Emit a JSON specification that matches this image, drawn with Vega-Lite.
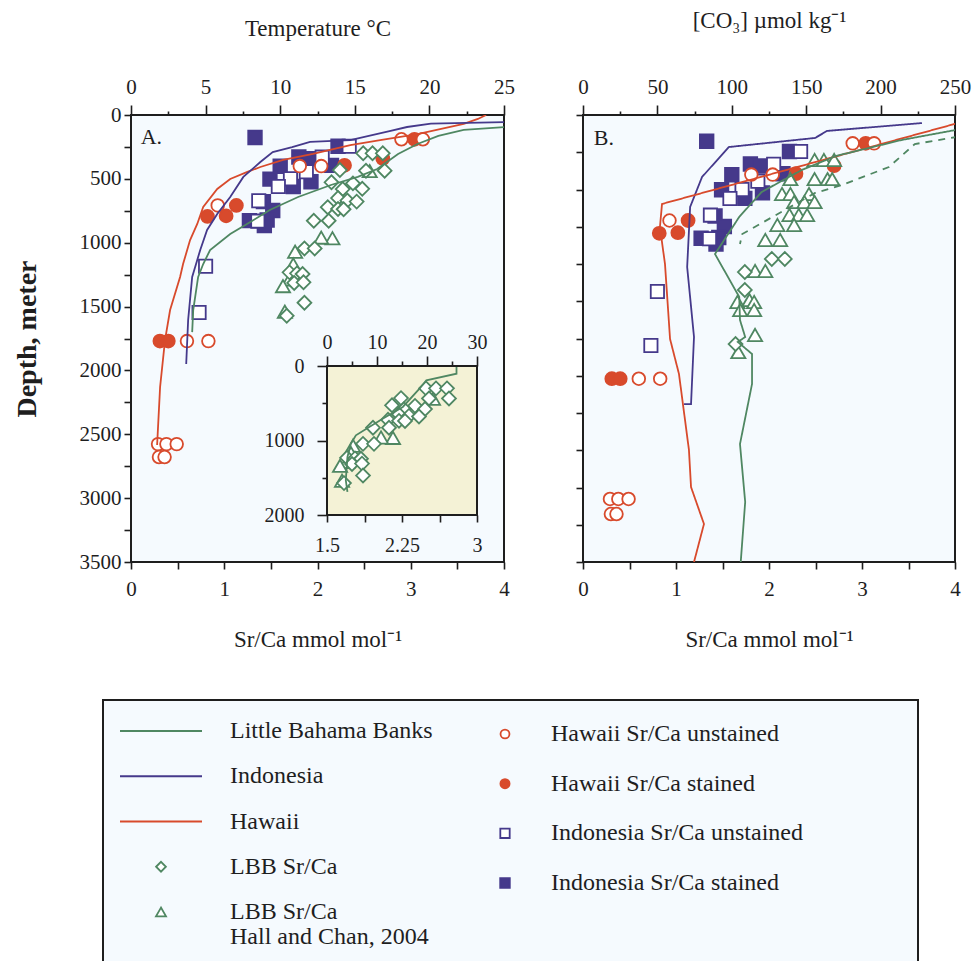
{
"$schema": "https://vega.github.io/schema/vega-lite/v6.json",
"background": "white",
"padding": {"left": 12, "top": 8, "right": 0, "bottom": 0},
"config": {
  "font": "Liberation Serif",
  "view": {"stroke": "#1e1e1e", "strokeWidth": 2, "fill": "#f5fafe"},
  "axis": {"domain": false, "grid": false, "tickColor": "#1e1e1e", "tickWidth": 1.6, "labelFont": "Liberation Serif", "labelFontSize": 21, "labelColor": "#1e1e1e", "titleFont": "Liberation Serif", "titleFontSize": 23, "titleFontWeight": "normal", "titleColor": "#1e1e1e", "labelOverlap": false, "labelFlush": false},
  "text": {"font": "Liberation Serif", "color": "#1e1e1e"}
},
"resolve": {"scale": {"size": "independent"}},
"spacing": 47,
"datasets": {
  "pts": [
    {"s":1.33,"d":176,"series":"Indonesia Sr/Ca stained","set":"HI"},
    {"s":2.22,"d":245,"series":"Indonesia Sr/Ca stained","set":"HI"},
    {"s":1.80,"d":329,"series":"Indonesia Sr/Ca stained","set":"HI"},
    {"s":1.90,"d":342,"series":"Indonesia Sr/Ca stained","set":"HI"},
    {"s":2.15,"d":394,"series":"Indonesia Sr/Ca stained","set":"HI"},
    {"s":1.60,"d":401,"series":"Indonesia Sr/Ca stained","set":"HI"},
    {"s":1.49,"d":502,"series":"Indonesia Sr/Ca stained","set":"HI"},
    {"s":1.93,"d":523,"series":"Indonesia Sr/Ca stained","set":"HI"},
    {"s":1.74,"d":560,"series":"Indonesia Sr/Ca stained","set":"HI"},
    {"s":1.42,"d":678,"series":"Indonesia Sr/Ca stained","set":"HI"},
    {"s":1.52,"d":748,"series":"Indonesia Sr/Ca stained","set":"HI"},
    {"s":1.27,"d":827,"series":"Indonesia Sr/Ca stained","set":"HI"},
    {"s":1.46,"d":822,"series":"Indonesia Sr/Ca stained","set":"HI"},
    {"s":1.43,"d":866,"series":"Indonesia Sr/Ca stained","set":"HI"},
    {"s":2.34,"d":245,"series":"Indonesia Sr/Ca unstained","set":"HI"},
    {"s":2.05,"d":330,"series":"Indonesia Sr/Ca unstained","set":"HI"},
    {"s":1.88,"d":445,"series":"Indonesia Sr/Ca unstained","set":"HI"},
    {"s":1.71,"d":500,"series":"Indonesia Sr/Ca unstained","set":"HI"},
    {"s":1.58,"d":560,"series":"Indonesia Sr/Ca unstained","set":"HI"},
    {"s":1.37,"d":672,"series":"Indonesia Sr/Ca unstained","set":"HI"},
    {"s":1.36,"d":831,"series":"Indonesia Sr/Ca unstained","set":"HI"},
    {"s":0.80,"d":1185,"series":"Indonesia Sr/Ca unstained","set":"HI"},
    {"s":0.73,"d":1547,"series":"Indonesia Sr/Ca unstained","set":"HI"},
    {"s":3.04,"d":190,"series":"Hawaii Sr/Ca stained","set":"HI"},
    {"s":2.29,"d":394,"series":"Hawaii Sr/Ca stained","set":"HI"},
    {"s":2.70,"d":340,"series":"Hawaii Sr/Ca stained","set":"HI"},
    {"s":1.13,"d":708,"series":"Hawaii Sr/Ca stained","set":"HI"},
    {"s":0.82,"d":794,"series":"Hawaii Sr/Ca stained","set":"HI"},
    {"s":1.02,"d":790,"series":"Hawaii Sr/Ca stained","set":"HI"},
    {"s":0.31,"d":1770,"series":"Hawaii Sr/Ca stained","set":"HI"},
    {"s":0.40,"d":1770,"series":"Hawaii Sr/Ca stained","set":"HI"},
    {"s":2.90,"d":190,"series":"Hawaii Sr/Ca unstained","set":"HI"},
    {"s":3.13,"d":190,"series":"Hawaii Sr/Ca unstained","set":"HI"},
    {"s":1.81,"d":400,"series":"Hawaii Sr/Ca unstained","set":"HI"},
    {"s":2.04,"d":400,"series":"Hawaii Sr/Ca unstained","set":"HI"},
    {"s":0.93,"d":708,"series":"Hawaii Sr/Ca unstained","set":"HI"},
    {"s":0.60,"d":1770,"series":"Hawaii Sr/Ca unstained","set":"HI"},
    {"s":0.83,"d":1770,"series":"Hawaii Sr/Ca unstained","set":"HI"},
    {"s":0.29,"d":2577,"series":"Hawaii Sr/Ca unstained","set":"HI"},
    {"s":0.38,"d":2577,"series":"Hawaii Sr/Ca unstained","set":"HI"},
    {"s":0.49,"d":2577,"series":"Hawaii Sr/Ca unstained","set":"HI"},
    {"s":0.30,"d":2678,"series":"Hawaii Sr/Ca unstained","set":"HI"},
    {"s":0.36,"d":2678,"series":"Hawaii Sr/Ca unstained","set":"HI"},
    {"s":2.56,"d":439,"series":"LBB Sr/Ca Hall and Chan, 2004","set":"A"},
    {"s":2.16,"d":965,"series":"LBB Sr/Ca Hall and Chan, 2004","set":"A"},
    {"s":2.04,"d":960,"series":"LBB Sr/Ca Hall and Chan, 2004","set":"A"},
    {"s":1.76,"d":1070,"series":"LBB Sr/Ca Hall and Chan, 2004","set":"A"},
    {"s":1.74,"d":1170,"series":"LBB Sr/Ca Hall and Chan, 2004","set":"A"},
    {"s":1.70,"d":1288,"series":"LBB Sr/Ca Hall and Chan, 2004","set":"A"},
    {"s":1.63,"d":1340,"series":"LBB Sr/Ca Hall and Chan, 2004","set":"A"},
    {"s":1.65,"d":1540,"series":"LBB Sr/Ca Hall and Chan, 2004","set":"A"},
    {"s":2.49,"d":300,"series":"LBB Sr/Ca","set":"A"},
    {"s":2.59,"d":300,"series":"LBB Sr/Ca","set":"A"},
    {"s":2.70,"d":300,"series":"LBB Sr/Ca","set":"A"},
    {"s":2.24,"d":431,"series":"LBB Sr/Ca","set":"A"},
    {"s":2.52,"d":436,"series":"LBB Sr/Ca","set":"A"},
    {"s":2.72,"d":436,"series":"LBB Sr/Ca","set":"A"},
    {"s":2.15,"d":527,"series":"LBB Sr/Ca","set":"A"},
    {"s":2.38,"d":535,"series":"LBB Sr/Ca","set":"A"},
    {"s":2.27,"d":580,"series":"LBB Sr/Ca","set":"A"},
    {"s":2.48,"d":578,"series":"LBB Sr/Ca","set":"A"},
    {"s":2.22,"d":650,"series":"LBB Sr/Ca","set":"A"},
    {"s":2.32,"d":670,"series":"LBB Sr/Ca","set":"A"},
    {"s":2.42,"d":678,"series":"LBB Sr/Ca","set":"A"},
    {"s":2.11,"d":722,"series":"LBB Sr/Ca","set":"A"},
    {"s":2.22,"d":736,"series":"LBB Sr/Ca","set":"A"},
    {"s":2.28,"d":738,"series":"LBB Sr/Ca","set":"A"},
    {"s":1.96,"d":828,"series":"LBB Sr/Ca","set":"A"},
    {"s":2.12,"d":828,"series":"LBB Sr/Ca","set":"A"},
    {"s":1.86,"d":1045,"series":"LBB Sr/Ca","set":"A"},
    {"s":1.97,"d":1045,"series":"LBB Sr/Ca","set":"A"},
    {"s":1.70,"d":1232,"series":"LBB Sr/Ca","set":"A"},
    {"s":1.78,"d":1240,"series":"LBB Sr/Ca","set":"A"},
    {"s":1.84,"d":1245,"series":"LBB Sr/Ca","set":"A"},
    {"s":1.75,"d":1315,"series":"LBB Sr/Ca","set":"A"},
    {"s":1.85,"d":1310,"series":"LBB Sr/Ca","set":"A"},
    {"s":1.86,"d":1470,"series":"LBB Sr/Ca","set":"A"},
    {"s":1.67,"d":1572,"series":"LBB Sr/Ca","set":"A"},
    {"s":2.49,"d":302,"series":"LBB Sr/Ca Hall and Chan, 2004","set":"B"},
    {"s":2.59,"d":302,"series":"LBB Sr/Ca Hall and Chan, 2004","set":"B"},
    {"s":2.70,"d":302,"series":"LBB Sr/Ca Hall and Chan, 2004","set":"B"},
    {"s":2.49,"d":430,"series":"LBB Sr/Ca Hall and Chan, 2004","set":"B"},
    {"s":2.63,"d":430,"series":"LBB Sr/Ca Hall and Chan, 2004","set":"B"},
    {"s":2.68,"d":430,"series":"LBB Sr/Ca Hall and Chan, 2004","set":"B"},
    {"s":2.23,"d":430,"series":"LBB Sr/Ca Hall and Chan, 2004","set":"B"},
    {"s":2.14,"d":530,"series":"LBB Sr/Ca Hall and Chan, 2004","set":"B"},
    {"s":2.23,"d":530,"series":"LBB Sr/Ca Hall and Chan, 2004","set":"B"},
    {"s":2.43,"d":530,"series":"LBB Sr/Ca Hall and Chan, 2004","set":"B"},
    {"s":2.27,"d":584,"series":"LBB Sr/Ca Hall and Chan, 2004","set":"B"},
    {"s":2.38,"d":584,"series":"LBB Sr/Ca Hall and Chan, 2004","set":"B"},
    {"s":2.49,"d":584,"series":"LBB Sr/Ca Hall and Chan, 2004","set":"B"},
    {"s":2.22,"d":671,"series":"LBB Sr/Ca Hall and Chan, 2004","set":"B"},
    {"s":2.32,"d":671,"series":"LBB Sr/Ca Hall and Chan, 2004","set":"B"},
    {"s":2.41,"d":671,"series":"LBB Sr/Ca Hall and Chan, 2004","set":"B"},
    {"s":2.09,"d":738,"series":"LBB Sr/Ca Hall and Chan, 2004","set":"B"},
    {"s":2.27,"d":738,"series":"LBB Sr/Ca Hall and Chan, 2004","set":"B"},
    {"s":1.96,"d":839,"series":"LBB Sr/Ca Hall and Chan, 2004","set":"B"},
    {"s":2.12,"d":839,"series":"LBB Sr/Ca Hall and Chan, 2004","set":"B"},
    {"s":1.85,"d":1047,"series":"LBB Sr/Ca Hall and Chan, 2004","set":"B"},
    {"s":1.96,"d":1047,"series":"LBB Sr/Ca Hall and Chan, 2004","set":"B"},
    {"s":1.66,"d":1255,"series":"LBB Sr/Ca Hall and Chan, 2004","set":"B"},
    {"s":1.79,"d":1242,"series":"LBB Sr/Ca Hall and Chan, 2004","set":"B"},
    {"s":1.84,"d":1255,"series":"LBB Sr/Ca Hall and Chan, 2004","set":"B"},
    {"s":1.69,"d":1309,"series":"LBB Sr/Ca Hall and Chan, 2004","set":"B"},
    {"s":1.84,"d":1309,"series":"LBB Sr/Ca Hall and Chan, 2004","set":"B"},
    {"s":1.85,"d":1476,"series":"LBB Sr/Ca Hall and Chan, 2004","set":"B"},
    {"s":1.67,"d":1591,"series":"LBB Sr/Ca Hall and Chan, 2004","set":"B"},
    {"s":2.03,"d":966,"series":"LBB Sr/Ca","set":"B"},
    {"s":2.17,"d":966,"series":"LBB Sr/Ca","set":"B"},
    {"s":1.74,"d":1054,"series":"LBB Sr/Ca","set":"B"},
    {"s":1.74,"d":1174,"series":"LBB Sr/Ca","set":"B"},
    {"s":1.64,"d":1537,"series":"LBB Sr/Ca","set":"B"}
  ],
  "tempA": [
    {"series":"Hawaii","t":23.8,"d":0},{"series":"Hawaii","t":23.25,"d":31},{"series":"Hawaii","t":22.3,"d":70},{"series":"Hawaii","t":19.2,"d":149},{"series":"Hawaii","t":16.7,"d":196},{"series":"Hawaii","t":14.7,"d":235},{"series":"Hawaii","t":12.2,"d":305},{"series":"Hawaii","t":10.2,"d":352},{"series":"Hawaii","t":8.67,"d":407},{"series":"Hawaii","t":7.8,"d":446},{"series":"Hawaii","t":6.65,"d":501},{"series":"Hawaii","t":5.78,"d":579},{"series":"Hawaii","t":4.84,"d":720},{"series":"Hawaii","t":4.44,"d":853},{"series":"Hawaii","t":3.96,"d":979},{"series":"Hawaii","t":3.49,"d":1167},{"series":"Hawaii","t":3.29,"d":1268},{"series":"Hawaii","t":2.62,"d":1527},{"series":"Hawaii","t":2.28,"d":1762},{"series":"Hawaii","t":1.95,"d":2130},{"series":"Hawaii","t":1.75,"d":2584},
    {"series":"Indonesia","t":25.6,"d":55},{"series":"Indonesia","t":20.1,"d":68},{"series":"Indonesia","t":18.5,"d":94},{"series":"Indonesia","t":17.4,"d":125},{"series":"Indonesia","t":14.7,"d":196},{"series":"Indonesia","t":12.0,"d":211},{"series":"Indonesia","t":10.8,"d":251},{"series":"Indonesia","t":9.5,"d":290},{"series":"Indonesia","t":8.67,"d":368},{"series":"Indonesia","t":7.53,"d":485},{"series":"Indonesia","t":6.65,"d":642},{"series":"Indonesia","t":5.78,"d":775},{"series":"Indonesia","t":5.1,"d":900},{"series":"Indonesia","t":4.64,"d":1057},{"series":"Indonesia","t":4.3,"d":1190},{"series":"Indonesia","t":4.1,"d":1268},{"series":"Indonesia","t":3.83,"d":1605},{"series":"Indonesia","t":3.7,"d":1950},
    {"series":"Little Bahama Banks","t":25.6,"d":90},{"series":"Little Bahama Banks","t":22.3,"d":117},{"series":"Little Bahama Banks","t":20.6,"d":164},{"series":"Little Bahama Banks","t":19.2,"d":227},{"series":"Little Bahama Banks","t":17.9,"d":305},{"series":"Little Bahama Banks","t":16.5,"d":423},{"series":"Little Bahama Banks","t":15.2,"d":485},{"series":"Little Bahama Banks","t":13.4,"d":548},{"series":"Little Bahama Banks","t":11.2,"d":642},{"series":"Little Bahama Banks","t":9.3,"d":744},{"series":"Little Bahama Banks","t":8.0,"d":838},{"series":"Little Bahama Banks","t":6.65,"d":932},{"series":"Little Bahama Banks","t":5.3,"d":1057},{"series":"Little Bahama Banks","t":4.84,"d":1167},{"series":"Little Bahama Banks","t":4.5,"d":1268},{"series":"Little Bahama Banks","t":4.17,"d":1527},{"series":"Little Bahama Banks","t":4.1,"d":1700}
  ],
  "insetLine": [
    {"t":25.9,"d":13},{"t":25.9,"d":103},{"t":19.87,"d":192},{"t":18.5,"d":305},{"t":15.16,"d":550},{"t":11.13,"d":707},{"t":8.45,"d":819},{"t":5.78,"d":930},{"t":4.77,"d":1043},{"t":4.09,"d":1221},{"t":3.76,"d":1534},{"t":4.09,"d":1691}
  ],
  "co3B": [
    {"series":"Indonesia","c":227.8,"d":54},{"series":"Indonesia","c":164,"d":107},{"series":"Indonesia","c":156,"d":154},{"series":"Indonesia","c":98,"d":215},{"series":"Indonesia","c":80,"d":416},{"series":"Indonesia","c":72,"d":617},{"series":"Indonesia","c":70,"d":1020},{"series":"Indonesia","c":74.6,"d":1490},{"series":"Indonesia","c":72.6,"d":1940},{"series":"Indonesia","c":67.9,"d":1941},
    {"series":"Hawaii","c":259,"d":35},{"series":"Hawaii","c":53.1,"d":597},{"series":"Hawaii","c":51.7,"d":752},{"series":"Hawaii","c":55.1,"d":1000},{"series":"Hawaii","c":58.5,"d":1503},{"series":"Hawaii","c":64.5,"d":1738},{"series":"Hawaii","c":71.2,"d":2248},{"series":"Hawaii","c":72.6,"d":2497},{"series":"Hawaii","c":81.3,"d":2745},{"series":"Hawaii","c":74.6,"d":3000},
    {"series":"Little Bahama Banks","c":255,"d":92},{"series":"Little Bahama Banks","c":214,"d":168},{"series":"Little Bahama Banks","c":170,"d":275},{"series":"Little Bahama Banks","c":147,"d":369},{"series":"Little Bahama Banks","c":120,"d":517},{"series":"Little Bahama Banks","c":105,"d":684},{"series":"Little Bahama Banks","c":88.7,"d":933},{"series":"Little Bahama Banks","c":105,"d":1221},{"series":"Little Bahama Banks","c":105.5,"d":1376},{"series":"Little Bahama Banks","c":109,"d":1490},{"series":"Little Bahama Banks","c":104,"d":1523},{"series":"Little Bahama Banks","c":113.6,"d":1604},{"series":"Little Bahama Banks","c":113.6,"d":1805},{"series":"Little Bahama Banks","c":105.5,"d":2208},{"series":"Little Bahama Banks","c":109,"d":2597},{"series":"Little Bahama Banks","c":106,"d":3000},
    {"series":"LBB dashed","c":252,"d":146},{"series":"LBB dashed","c":223,"d":195},{"series":"LBB dashed","c":205.6,"d":349},{"series":"LBB dashed","c":174,"d":470},{"series":"LBB dashed","c":156,"d":523},{"series":"LBB dashed","c":107,"d":799},{"series":"LBB dashed","c":105.5,"d":866}
  ],
  "legL": [
    {"col":0,"row":1,"kind":"line","series":"Little Bahama Banks","label":"Little Bahama Banks"},
    {"col":0,"row":2,"kind":"line","series":"Indonesia","label":"Indonesia"},
    {"col":0,"row":3,"kind":"line","series":"Hawaii","label":"Hawaii"},
    {"col":0,"row":4,"kind":"symbol","series":"LBB Sr/Ca","label":"LBB Sr/Ca"},
    {"col":0,"row":5,"kind":"symbol","series":"LBB Sr/Ca Hall and Chan, 2004","label":"LBB Sr/Ca\nHall and Chan, 2004"}
  ],
  "legR": [
    {"col":1,"row":1,"series":"Hawaii Sr/Ca unstained","label":"Hawaii Sr/Ca unstained"},
    {"col":1,"row":2,"series":"Hawaii Sr/Ca stained","label":"Hawaii Sr/Ca stained"},
    {"col":1,"row":3,"series":"Indonesia Sr/Ca unstained","label":"Indonesia Sr/Ca unstained"},
    {"col":1,"row":4,"series":"Indonesia Sr/Ca stained","label":"Indonesia Sr/Ca stained"}
  ]
},
"vconcat": [
 {
  "hconcat": [
   {
    "width": 373, "height": 447,
    "resolve": {"scale": {"x": "independent", "y": "independent"}},
    "layer": [
     {"data": {"name": "pts"},
      "transform": [{"filter": "datum.set !== 'B'"}],
      "mark": {"type": "point", "filled": true, "strokeWidth": 1.8, "opacity": 1},
      "encoding": {
        "x": {"field": "s", "type": "quantitative", "scale": {"domain": [0,4], "nice": false, "zero": false},
              "axis": {"orient": "bottom", "values": [0,0.5,1,1.5,2,2.5,3,3.5,4], "labelExpr": "datum.value % 1 === 0 ? format(datum.value, 'd') : ''", "tickSize": 7, "labelPadding": 9, "title": "Sr/Ca mmol mol⁻¹", "titlePadding": 29}},
        "y": {"field": "d", "type": "quantitative", "scale": {"domain": [0,3500], "nice": false, "zero": false, "reverse": true},
              "axis": {"orient": "left", "values": [0,250,500,750,1000,1250,1500,1750,2000,2250,2500,2750,3000,3250,3500], "labelExpr": "datum.value % 500 === 0 ? format(datum.value, 'd') : ''", "tickSize": 7, "labelPadding": 3, "title": "Depth, meter", "titleFontWeight": "bold", "titleFontSize": 28, "titlePadding": 38}},
        "shape": {"field": "series", "type": "nominal", "legend": null, "scale": {"domain": ["Hawaii Sr/Ca unstained","Hawaii Sr/Ca stained","Indonesia Sr/Ca unstained","Indonesia Sr/Ca stained","LBB Sr/Ca","LBB Sr/Ca Hall and Chan, 2004"], "range": ["circle","circle","square","square","diamond","triangle-up"]}},
        "stroke": {"field": "series", "type": "nominal", "legend": null, "scale": {"domain": ["Hawaii Sr/Ca unstained","Hawaii Sr/Ca stained","Indonesia Sr/Ca unstained","Indonesia Sr/Ca stained","LBB Sr/Ca","LBB Sr/Ca Hall and Chan, 2004"], "range": ["#d84a2c","#d84a2c","#45398b","#45398b","#4f8762","#4f8762"]}},
        "fill": {"field": "series", "type": "nominal", "legend": null, "scale": {"domain": ["Hawaii Sr/Ca unstained","Hawaii Sr/Ca stained","Indonesia Sr/Ca unstained","Indonesia Sr/Ca stained","LBB Sr/Ca","LBB Sr/Ca Hall and Chan, 2004"], "range": ["#ffffff","#d84a2c","#ffffff","#45398b","#ffffff","#ffffff"]}},
        "size": {"field": "series", "type": "ordinal", "legend": null, "scale": {"domain": ["Hawaii Sr/Ca unstained","Hawaii Sr/Ca stained","Indonesia Sr/Ca unstained","Indonesia Sr/Ca stained","LBB Sr/Ca","LBB Sr/Ca Hall and Chan, 2004"], "range": [160,200,90,110,130,160]}}
      }},
     {"data": {"name": "tempA"},
      "mark": {"type": "line", "strokeWidth": 1.8, "clip": true},
      "encoding": {
        "x": {"field": "t", "type": "quantitative", "scale": {"domain": [0,25], "nice": false, "zero": false},
              "axis": {"orient": "top", "values": [0,5,10,15,20,25], "format": "d", "tickSize": 10, "labelPadding": 8, "title": "Temperature °C", "titlePadding": 36}},
        "y": {"field": "d", "type": "quantitative", "scale": {"domain": [0,3500], "nice": false, "zero": false, "reverse": true}, "axis": null},
        "color": {"field": "series", "type": "nominal", "legend": null, "scale": {"domain": ["Little Bahama Banks","Indonesia","Hawaii","LBB dashed"], "range": ["#4f8762","#45398b","#d84a2c","#4f8762"]}},
        "order": {"field": "d", "type": "quantitative"}
      }},
     {"data": {"values": [{"label": "A."}]},
      "mark": {"type": "text", "align": "left", "baseline": "middle", "fontSize": 22},
      "encoding": {
        "x": {"datum": 0.65, "type": "quantitative", "scale": {"domain": [0,25], "nice": false, "zero": false},
              "axis": {"orient": "top", "values": [2.5,7.5,12.5,17.5,22.5], "labels": false, "tickSize": 4, "title": null}},
        "y": {"datum": 172, "type": "quantitative", "scale": {"domain": [0,3500], "nice": false, "zero": false, "reverse": true}, "axis": null},
        "text": {"field": "label", "type": "nominal"}
      }},
     {"data": {"values": [{}]},
      "mark": {"type": "rect", "fill": "#f4f2d6", "stroke": "#1e1e1e", "strokeWidth": 2},
      "encoding": {
        "x": {"datum": 0, "type": "quantitative", "scale": {"domain": [0,30], "range": [196,346], "nice": false, "zero": false},
              "axis": {"orient": "top", "offset": -251, "values": [5,15,25], "labels": false, "tickSize": 5, "title": null}},
        "x2": {"datum": 30},
        "y": {"datum": 0, "type": "quantitative", "scale": {"domain": [0,2000], "range": [251,400], "nice": false, "zero": false},
              "axis": {"orient": "left", "offset": -196, "values": [0,1000,2000], "format": "d", "tickSize": 10, "labelPadding": 13, "labelFontSize": 20, "title": null}},
        "y2": {"datum": 2000}
      }},
     {"data": {"name": "pts"},
      "transform": [{"filter": "datum.set === 'A'"}],
      "mark": {"type": "point", "filled": true, "strokeWidth": 1.8, "opacity": 1},
      "encoding": {
        "x": {"field": "s", "type": "quantitative", "scale": {"domain": [1.5,3], "range": [196,346], "nice": false, "zero": false},
              "axis": {"orient": "bottom", "offset": -47, "values": [1.5,1.875,2.25,2.625,3], "labelExpr": "datum.value === 1.875 || datum.value === 2.625 ? '' : '' + datum.value", "tickSize": 7, "labelPadding": 13, "labelFontSize": 20, "title": null}},
        "y": {"field": "d", "type": "quantitative", "scale": {"domain": [0,2000], "range": [251,400], "nice": false, "zero": false},
              "axis": {"orient": "left", "offset": -196, "values": [500,1500], "labels": false, "tickSize": 5, "title": null}},
        "shape": {"field": "series", "type": "nominal", "legend": null, "scale": {"domain": ["Hawaii Sr/Ca unstained","Hawaii Sr/Ca stained","Indonesia Sr/Ca unstained","Indonesia Sr/Ca stained","LBB Sr/Ca","LBB Sr/Ca Hall and Chan, 2004"], "range": ["circle","circle","square","square","diamond","triangle-up"]}},
        "stroke": {"field": "series", "type": "nominal", "legend": null, "scale": {"domain": ["Hawaii Sr/Ca unstained","Hawaii Sr/Ca stained","Indonesia Sr/Ca unstained","Indonesia Sr/Ca stained","LBB Sr/Ca","LBB Sr/Ca Hall and Chan, 2004"], "range": ["#d84a2c","#d84a2c","#45398b","#45398b","#4f8762","#4f8762"]}},
        "fill": {"field": "series", "type": "nominal", "legend": null, "scale": {"domain": ["Hawaii Sr/Ca unstained","Hawaii Sr/Ca stained","Indonesia Sr/Ca unstained","Indonesia Sr/Ca stained","LBB Sr/Ca","LBB Sr/Ca Hall and Chan, 2004"], "range": ["#ffffff","#d84a2c","#ffffff","#45398b","#ffffff","#ffffff"]}},
        "size": {"field": "series", "type": "ordinal", "legend": null, "scale": {"domain": ["Hawaii Sr/Ca unstained","Hawaii Sr/Ca stained","Indonesia Sr/Ca unstained","Indonesia Sr/Ca stained","LBB Sr/Ca","LBB Sr/Ca Hall and Chan, 2004"], "range": [160,200,90,110,130,160]}}
      }},
     {"data": {"name": "insetLine"},
      "mark": {"type": "line", "strokeWidth": 1.8, "color": "#4f8762"},
      "encoding": {
        "x": {"field": "t", "type": "quantitative", "scale": {"domain": [0,30], "range": [196,346], "nice": false, "zero": false},
              "axis": {"orient": "top", "offset": -251, "values": [0,10,20,30], "format": "d", "tickSize": 10, "labelPadding": 4, "labelFontSize": 20, "title": null}},
        "y": {"field": "d", "type": "quantitative", "scale": {"domain": [0,2000], "range": [251,400], "nice": false, "zero": false}, "axis": null},
        "order": {"field": "d", "type": "quantitative"}
      }}
    ]
   },
   {
    "width": 372, "height": 447,
    "resolve": {"scale": {"x": "independent", "y": "independent"}},
    "layer": [
     {"data": {"name": "pts"},
      "transform": [{"filter": "datum.set !== 'A'"}],
      "mark": {"type": "point", "filled": true, "strokeWidth": 1.8, "opacity": 1},
      "encoding": {
        "x": {"field": "s", "type": "quantitative", "scale": {"domain": [0,4], "nice": false, "zero": false},
              "axis": {"orient": "bottom", "values": [0,0.5,1,1.5,2,2.5,3,3.5,4], "labelExpr": "datum.value % 1 === 0 ? format(datum.value, 'd') : ''", "tickSize": 7, "labelPadding": 9, "title": "Sr/Ca mmol mol⁻¹", "titlePadding": 29}},
        "y": {"field": "d", "type": "quantitative", "scale": {"domain": [0,3000], "nice": false, "zero": false, "reverse": true},
              "axis": {"orient": "left", "values": [0,250,500,750,1000,1250,1500,1750,2000,2250,2500,2750,3000], "labels": false, "tickSize": 7, "title": null}},
        "shape": {"field": "series", "type": "nominal", "legend": null, "scale": {"domain": ["Hawaii Sr/Ca unstained","Hawaii Sr/Ca stained","Indonesia Sr/Ca unstained","Indonesia Sr/Ca stained","LBB Sr/Ca","LBB Sr/Ca Hall and Chan, 2004"], "range": ["circle","circle","square","square","diamond","triangle-up"]}},
        "stroke": {"field": "series", "type": "nominal", "legend": null, "scale": {"domain": ["Hawaii Sr/Ca unstained","Hawaii Sr/Ca stained","Indonesia Sr/Ca unstained","Indonesia Sr/Ca stained","LBB Sr/Ca","LBB Sr/Ca Hall and Chan, 2004"], "range": ["#d84a2c","#d84a2c","#45398b","#45398b","#4f8762","#4f8762"]}},
        "fill": {"field": "series", "type": "nominal", "legend": null, "scale": {"domain": ["Hawaii Sr/Ca unstained","Hawaii Sr/Ca stained","Indonesia Sr/Ca unstained","Indonesia Sr/Ca stained","LBB Sr/Ca","LBB Sr/Ca Hall and Chan, 2004"], "range": ["#ffffff","#d84a2c","#ffffff","#45398b","#ffffff","#ffffff"]}},
        "size": {"field": "series", "type": "ordinal", "legend": null, "scale": {"domain": ["Hawaii Sr/Ca unstained","Hawaii Sr/Ca stained","Indonesia Sr/Ca unstained","Indonesia Sr/Ca stained","LBB Sr/Ca","LBB Sr/Ca Hall and Chan, 2004"], "range": [160,200,100,210,130,170]}}
      }},
     {"data": {"name": "co3B"},
      "mark": {"type": "line", "strokeWidth": 1.8, "clip": true},
      "encoding": {
        "x": {"field": "c", "type": "quantitative", "scale": {"domain": [0,250], "nice": false, "zero": false},
              "axis": {"orient": "top", "values": [0,50,100,150,200,250], "format": "d", "tickSize": 10, "labelPadding": 8, "title": "[CO₃] µmol kg⁻¹", "titlePadding": 44}},
        "y": {"field": "d", "type": "quantitative", "scale": {"domain": [0,3000], "nice": false, "zero": false, "reverse": true}, "axis": null},
        "color": {"field": "series", "type": "nominal", "legend": null, "scale": {"domain": ["Little Bahama Banks","Indonesia","Hawaii","LBB dashed"], "range": ["#4f8762","#45398b","#d84a2c","#4f8762"]}},
        "strokeDash": {"field": "series", "type": "nominal", "legend": null, "scale": {"domain": ["Little Bahama Banks","Indonesia","Hawaii","LBB dashed"], "range": [[1,0],[1,0],[1,0],[7,6]]}},
        "order": {"field": "d", "type": "quantitative"}
      }},
     {"data": {"values": [{"label": "B."}]},
      "mark": {"type": "text", "align": "left", "baseline": "middle", "fontSize": 22},
      "encoding": {
        "x": {"datum": 7.2, "type": "quantitative", "scale": {"domain": [0,250], "nice": false, "zero": false},
              "axis": {"orient": "top", "values": [25,75,125,175,225], "labels": false, "tickSize": 4, "title": null}},
        "y": {"datum": 154, "type": "quantitative", "scale": {"domain": [0,3000], "nice": false, "zero": false, "reverse": true}, "axis": null},
        "text": {"field": "label", "type": "nominal"}
      }}
    ]
   }
  ],
  "spacing": 79,
  "bounds": "flush",
  "resolve": {"scale": {"size": "independent"}}
 },
 {
  "width": 787, "height": 270,
  "view": {"stroke": null, "fill": null},
  "resolve": {"scale": {"y": "independent"}},
  "layer": [
   {"data": {"values": [{}]},
    "mark": {"type": "rect", "fill": "#f5fafe", "stroke": "#1e1e1e", "strokeWidth": 2},
    "encoding": {
      "x": {"datum": -0.1686, "type": "quantitative", "scale": {"domain": [0,1], "range": [30,374]}, "axis": null},
      "x2": {"datum": 2.2006},
      "y": {"datum": 0.315, "type": "quantitative", "scale": {"domain": [1,5], "range": [31,212], "zero": false, "nice": false}, "axis": null},
      "y2": {"datum": 6.282}
    }},
   {"data": {"name": "legL"},
    "transform": [{"filter": "datum.kind === 'line'"}],
    "mark": {"type": "point", "shape": "M-1,0H1", "size": 6724, "strokeWidth": 2, "filled": false, "opacity": 1},
    "encoding": {
      "x": {"field": "col", "type": "quantitative", "scale": {"domain": [0,1], "range": [30,374]}, "axis": null},
      "y": {"field": "row", "type": "quantitative", "scale": {"domain": [1,5], "range": [31,212], "zero": false, "nice": false}, "axis": null},
      "color": {"field": "series", "type": "nominal", "legend": null, "scale": {"domain": ["Little Bahama Banks","Indonesia","Hawaii","LBB dashed"], "range": ["#4f8762","#45398b","#d84a2c","#4f8762"]}}
    }},
   {"data": {"name": "legL"},
    "transform": [{"filter": "datum.kind === 'symbol'"}],
    "mark": {"type": "point", "filled": true, "strokeWidth": 1.8, "opacity": 1},
    "encoding": {
      "x": {"field": "col", "type": "quantitative", "scale": {"domain": [0,1], "range": [30,374]}, "axis": null},
      "y": {"field": "row", "type": "quantitative", "scale": {"domain": [1,5], "range": [31,212], "zero": false, "nice": false}, "axis": null},
      "shape": {"field": "series", "type": "nominal", "legend": null, "scale": {"domain": ["Hawaii Sr/Ca unstained","Hawaii Sr/Ca stained","Indonesia Sr/Ca unstained","Indonesia Sr/Ca stained","LBB Sr/Ca","LBB Sr/Ca Hall and Chan, 2004"], "range": ["circle","circle","square","square","diamond","triangle-up"]}},
      "stroke": {"field": "series", "type": "nominal", "legend": null, "scale": {"domain": ["Hawaii Sr/Ca unstained","Hawaii Sr/Ca stained","Indonesia Sr/Ca unstained","Indonesia Sr/Ca stained","LBB Sr/Ca","LBB Sr/Ca Hall and Chan, 2004"], "range": ["#d84a2c","#d84a2c","#45398b","#45398b","#4f8762","#4f8762"]}},
      "fill": {"field": "series", "type": "nominal", "legend": null, "scale": {"domain": ["Hawaii Sr/Ca unstained","Hawaii Sr/Ca stained","Indonesia Sr/Ca unstained","Indonesia Sr/Ca stained","LBB Sr/Ca","LBB Sr/Ca Hall and Chan, 2004"], "range": ["#ffffff","#d84a2c","#ffffff","#45398b","#ffffff","#ffffff"]}},
      "size": {"field": "series", "type": "ordinal", "legend": null, "scale": {"domain": ["Hawaii Sr/Ca unstained","Hawaii Sr/Ca stained","Indonesia Sr/Ca unstained","Indonesia Sr/Ca stained","LBB Sr/Ca","LBB Sr/Ca Hall and Chan, 2004"], "range": [80,100,60,60,75,80]}}
    }},
   {"data": {"name": "legL"},
    "mark": {"type": "text", "align": "left", "baseline": "middle", "dx": 69, "fontSize": 24, "lineBreak": "\n", "lineHeight": 25},
    "encoding": {
      "x": {"field": "col", "type": "quantitative", "scale": {"domain": [0,1], "range": [30,374]}, "axis": null},
      "y": {"field": "row", "type": "quantitative", "scale": {"domain": [1,5], "range": [31,212], "zero": false, "nice": false}, "axis": null},
      "text": {"field": "label", "type": "nominal"}
    }},
   {"data": {"name": "legR"},
    "mark": {"type": "point", "filled": true, "strokeWidth": 1.8, "opacity": 1},
    "encoding": {
      "x": {"field": "col", "type": "quantitative", "scale": {"domain": [0,1], "range": [30,374]}, "axis": null},
      "y": {"field": "row", "type": "quantitative", "scale": {"domain": [1,4], "range": [34,183], "zero": false, "nice": false}, "axis": null},
      "shape": {"field": "series", "type": "nominal", "legend": null, "scale": {"domain": ["Hawaii Sr/Ca unstained","Hawaii Sr/Ca stained","Indonesia Sr/Ca unstained","Indonesia Sr/Ca stained","LBB Sr/Ca","LBB Sr/Ca Hall and Chan, 2004"], "range": ["circle","circle","square","square","diamond","triangle-up"]}},
      "stroke": {"field": "series", "type": "nominal", "legend": null, "scale": {"domain": ["Hawaii Sr/Ca unstained","Hawaii Sr/Ca stained","Indonesia Sr/Ca unstained","Indonesia Sr/Ca stained","LBB Sr/Ca","LBB Sr/Ca Hall and Chan, 2004"], "range": ["#d84a2c","#d84a2c","#45398b","#45398b","#4f8762","#4f8762"]}},
      "fill": {"field": "series", "type": "nominal", "legend": null, "scale": {"domain": ["Hawaii Sr/Ca unstained","Hawaii Sr/Ca stained","Indonesia Sr/Ca unstained","Indonesia Sr/Ca stained","LBB Sr/Ca","LBB Sr/Ca Hall and Chan, 2004"], "range": ["#ffffff","#d84a2c","#ffffff","#45398b","#ffffff","#ffffff"]}},
      "size": {"field": "series", "type": "ordinal", "legend": null, "scale": {"domain": ["Hawaii Sr/Ca unstained","Hawaii Sr/Ca stained","Indonesia Sr/Ca unstained","Indonesia Sr/Ca stained","LBB Sr/Ca","LBB Sr/Ca Hall and Chan, 2004"], "range": [80,100,60,60,75,80]}}
    }},
   {"data": {"name": "legR"},
    "mark": {"type": "text", "align": "left", "baseline": "middle", "dx": 46, "fontSize": 24},
    "encoding": {
      "x": {"field": "col", "type": "quantitative", "scale": {"domain": [0,1], "range": [30,374]}, "axis": null},
      "y": {"field": "row", "type": "quantitative", "scale": {"domain": [1,4], "range": [34,183], "zero": false, "nice": false}, "axis": null},
      "text": {"field": "label", "type": "nominal"}
    }}
  ]
 }
]
}
